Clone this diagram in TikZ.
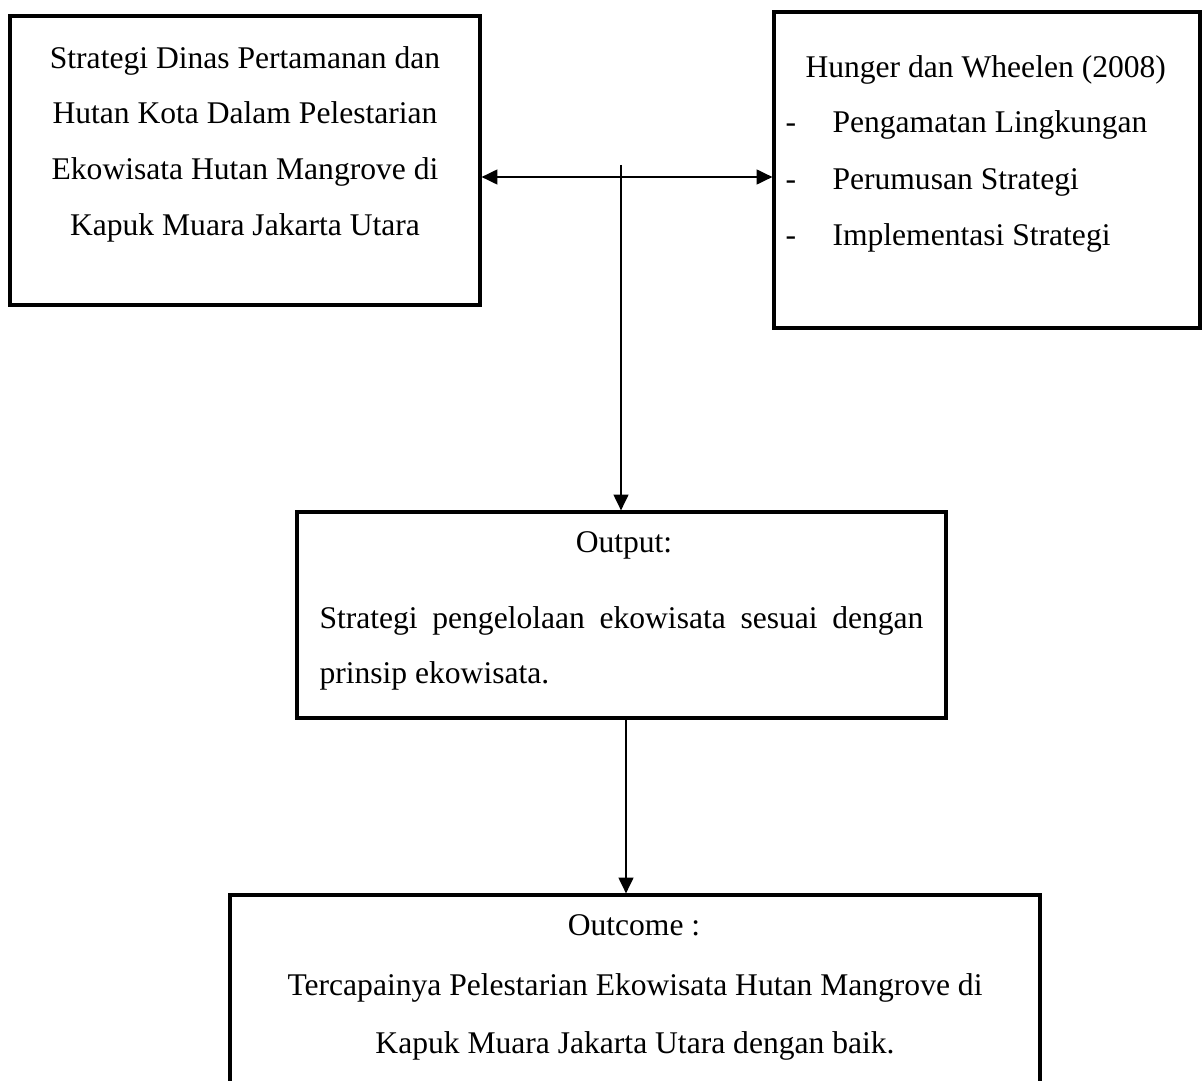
\documentclass[tikz,border=0pt]{standalone}
\usepackage{fontspec}
\setmainfont{Liberation Serif}
\usetikzlibrary{arrows.meta,fit}
\begin{document}
\begin{tikzpicture}[x=0.38pt,y=-0.38pt,
  box/.style={draw,line width=1.2pt,inner sep=0pt},
  txt/.style={inner sep=0pt,font=\fontsize{12}{14}\selectfont},
  arr/.style={line width=0.8pt,-{Triangle[length=6pt,width=5.6pt]}},
  darr/.style={line width=0.8pt,{Triangle[length=6pt,width=5.6pt]}-{Triangle[length=6pt,width=5.6pt]}},
]
\clip (0,0) rectangle (1202,1081);
\fill[white] (0,0) rectangle (1202,1081);

% boxes
\node[box,fit={(10,16) (480,305)}] (b1) {};
\node[box,fit={(774,12) (1200,328)}] (b2) {};
\node[box,fit={(297,512) (946,718)}] (b3) {};
\node[box,fit={(230,895) (1040,1120)}] (b4) {};

% box 1 text
\node[txt,anchor=base] (t11) at (245,69) {Strategi Dinas Pertamanan dan};
\node[txt,anchor=base] (t12) at (245,124) {Hutan Kota Dalam Pelestarian};
\node[txt,anchor=base] (t13) at (245,180) {Ekowisata Hutan Mangrove di};
\node[txt,anchor=base] (t14) at (245,235) {Kapuk Muara Jakarta Utara};

% box 2 text
\node[txt,anchor=base west] (t21) at (805,78) {Hunger dan Wheelen (2008)};
\node[txt,anchor=base west] (d1) at (785,133) {-};
\node[txt,anchor=base west] (t22) at (832,133) {Pengamatan Lingkungan};
\node[txt,anchor=base west] (d2) at (785,189) {-};
\node[txt,anchor=base west] (t23) at (832,189) {Perumusan Strategi};
\node[txt,anchor=base west] (d3) at (785,245) {-};
\node[txt,anchor=base west] (t24) at (832,245) {Implementasi Strategi};

% box 3 text
\node[txt,anchor=base] (t31) at (624,552) {Output:};
\node[txt,anchor=base west] (t32) at (319,628) {\makebox[229.5pt][s]{Strategi pengelolaan ekowisata sesuai dengan}};
\node[txt,anchor=base west] (t33) at (319,683) {prinsip ekowisata.};

% box 4 text
\node[txt,anchor=base] (t41) at (634,935) {Outcome :};
\node[txt,anchor=base] (t42) at (635,995) {Tercapainya Pelestarian Ekowisata Hutan Mangrove di};
\node[txt,anchor=base] (t43) at (635,1053) {Kapuk Muara Jakarta Utara dengan baik.};

% connectors
\coordinate (h) at (620,177);
\coordinate (v) at (621,165);
\coordinate (w) at (626,800);
\draw[darr] (b1.east |- h) -- (b2.west |- h);
\draw[arr] (v) -- (v |- b3.north);
\draw[arr] (b3.south -| w) -- (b4.north -| w);
\end{tikzpicture}
\end{document}
